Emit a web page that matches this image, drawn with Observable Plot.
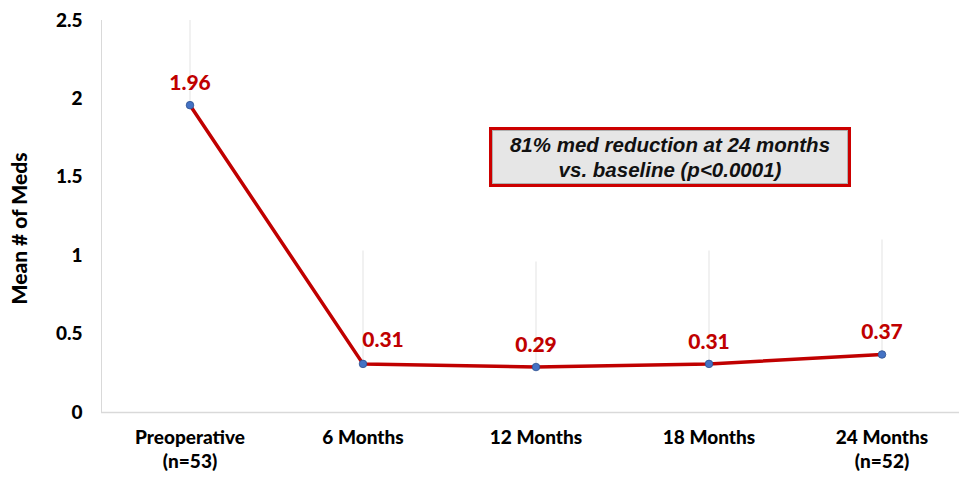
<!DOCTYPE html>
<html>
<head>
<meta charset="utf-8">
<script src="https://cdn.jsdelivr.net/npm/d3@7"></script>
<script src="https://cdn.jsdelivr.net/npm/@observablehq/plot@0.6"></script>
<style>
  html, body { margin: 0; padding: 0; background: #fff; }
  #wrap { position: relative; width: 959px; height: 479px; }
  #note {
    position: absolute;
    left: 489px; top: 127px;
    width: 356px; height: 54px;
    border: 3px solid #cc0000;
    box-shadow: inset 0 0 0 1px #b0b0b0;
    background: #e6e6e6;
    font-family: "Liberation Sans", Arial, sans-serif;
    font-weight: bold; font-style: italic;
    font-size: 20.5px; line-height: 25px;
    text-align: center; color: #111;
    display: flex; flex-direction: column; justify-content: center;
  }
</style>
</head>
<body>
<div id="wrap"></div>
<script>
// Time points and their axis labels
const timepoints = ["Preoperative", "6 Months", "12 Months", "18 Months", "24 Months"];
const tickLabels = ["Preoperative\n(n=53)", "6 Months", "12 Months", "18 Months", "24 Months\n(n=52)"];
// Mean number of medications and the upper end of each error bar
const meanMeds = [1.96, 0.31, 0.29, 0.31, 0.37];
const upperBar = [2.5, 1.03, 0.96, 1.03, 1.10];
const yTicks = [0, 0.5, 1, 1.5, 2, 2.5];
const noteLines = ["81% med reduction at 24 months", "vs. baseline (p<0.0001)"];

const rows = timepoints.map((t, i) => ({t, mean: meanMeds[i], upper: upperBar[i], i}));
const labelOf = new Map(timepoints.map((t, i) => [t, tickLabels[i]]));

const red = "#c00000";

const chart = Plot.plot({
  width: 959,
  height: 479,
  marginLeft: 101,
  marginRight: 0,
  marginTop: 20,
  marginBottom: 67,
  style: {fontFamily: "Lato, 'Open Sans', sans-serif", fontWeight: "900", fontSize: "19px", color: "#000", background: "#fff"},
  x: {type: "band", domain: timepoints, range: [101, 970], padding: 0},
  y: {domain: [0, 2.5]},
  marks: [
    Plot.frame({anchor: "left", stroke: "#d9d9d9"}),
    Plot.ruleY([0], {stroke: "#d9d9d9", strokeWidth: 1.5}),
    Plot.ruleX(rows, {x: "t", y1: "mean", y2: "upper", stroke: "#e3e3e3", strokeWidth: 1}),
    Plot.line(rows, {x: "t", y: "mean", stroke: red, strokeWidth: 3.5}),
    Plot.dot(rows, {x: "t", y: "mean", r: 3.8, fill: "#4472c4", stroke: "#2f528f", strokeWidth: 0.8}),
    Plot.text(rows.filter(d => d.i !== 1), {x: "t", y: "mean", text: d => d.mean.toFixed(2), dy: -22, fill: red, fontSize: 21, fontWeight: "900"}),
    Plot.text(rows.filter(d => d.i === 1), {x: "t", y: "mean", text: d => d.mean.toFixed(2), dy: -24, dx: 20, fill: red, fontSize: 21, fontWeight: "900"}),
    Plot.axisX({tickSize: 0, tickPadding: 15, tickFormat: t => labelOf.get(t), lineHeight: 1.25, fontSize: 19, fontWeight: "900", label: null}),
    Plot.axisY({ticks: yTicks, tickSize: 0, tickPadding: 19, tickFormat: d => String(d), fontSize: 19, fontWeight: "900", label: null}),
    // rotated y-axis title
    Plot.text(["Mean # of Meds"], {frameAnchor: "left", textAnchor: "middle", dx: -81, dy: 12, rotate: -90, fontSize: 21, fontWeight: "900", fill: "#000"})
  ]
});

const wrap = document.getElementById("wrap");
wrap.appendChild(chart);

const note = document.createElement("div");
note.id = "note";
noteLines.forEach(s => {
  const line = document.createElement("div");
  line.textContent = s;
  note.appendChild(line);
});
wrap.appendChild(note);
</script>
</body>
</html>
